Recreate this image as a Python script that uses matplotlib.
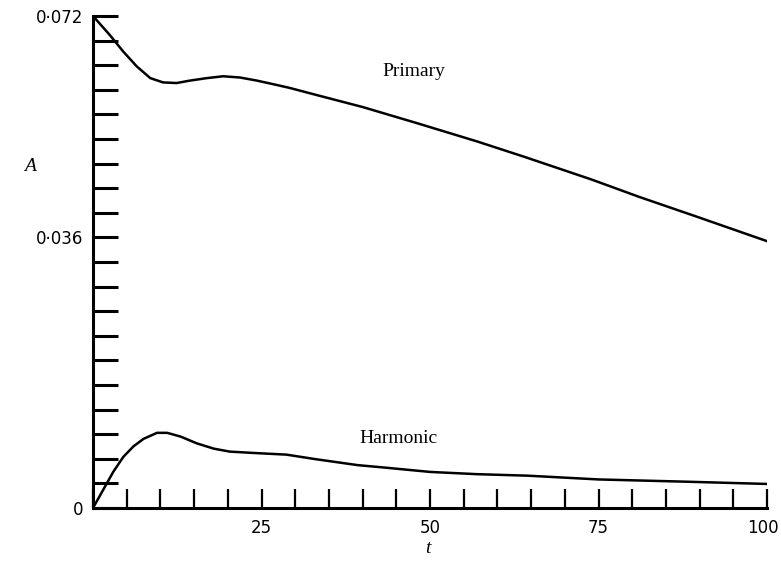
import numpy as np
import matplotlib
matplotlib.use("Agg")
import matplotlib.pyplot as plt
from matplotlib.transforms import ScaledTranslation

# Amplitude histories against time t
t_primary = [0, 2.5, 4.5, 6.5, 8.5, 10.4, 12.4, 14.4, 16.9, 19.3, 21.8, 24.3, 27.2, 29.2,
             33, 40, 48, 57, 64, 74, 81, 89.5, 100]
a_primary = [0.0720, 0.0689, 0.0662, 0.0638, 0.0619, 0.0612, 0.0611, 0.0615, 0.0619, 0.0622,
             0.0620, 0.0615, 0.0608, 0.0603, 0.0592, 0.0572, 0.0546, 0.0516, 0.0491, 0.0454,
             0.0426, 0.0394, 0.0355]

t_harmonic = [0, 1.5, 3, 4.5, 6, 7.5, 9.5, 11, 13, 15.4, 17.9, 20.3, 24.3, 28.7, 33, 39.3,
              43, 50, 57, 64.5, 75, 88, 100]
a_harmonic = [0.0, 0.0024, 0.0048, 0.0068, 0.0082, 0.0092, 0.0100, 0.0100, 0.0095, 0.0086,
              0.0079, 0.0075, 0.0073, 0.0071, 0.0065, 0.0057, 0.0054, 0.0048, 0.0045, 0.0043,
              0.0038, 0.0035, 0.0032]

y_tick_labels = {0.0: "0", 0.036: "0·036", 0.072: "0·072"}
x_tick_labels = [25, 50, 75, 100]

# Vertical axis: the lower half (0 to 0.036) spans 11 divisions, the upper half 9
LOW_DIV, HIGH_DIV, MID = 11.0, 9.0, 0.036


def forward(v):
    v = np.asarray(v, dtype=float)
    return np.where(v <= MID, v / MID * LOW_DIV, LOW_DIV + (v - MID) / MID * HIGH_DIV)


def inverse(u):
    u = np.asarray(u, dtype=float)
    return np.where(u <= LOW_DIV, u / LOW_DIV * MID, MID + (u - LOW_DIV) / HIGH_DIV * MID)


W, H = 781, 562
fig = plt.figure(figsize=(W / 100, H / 100), dpi=100)
ax = fig.add_axes([93 / W, (H - 508) / H, (767 - 93) / W, (508 - 16) / H])

ax.set_yscale("function", functions=(forward, inverse))
ax.plot(t_primary, a_primary, color="black", lw=1.8, solid_capstyle="round", solid_joinstyle="round")
ax.plot(t_harmonic, a_harmonic, color="black", lw=1.8, solid_capstyle="round", solid_joinstyle="round")

ax.set_xlim(0, 100)
ax.set_ylim(0, 0.072)

for side in ("top", "right"):
    ax.spines[side].set_visible(False)
for side in ("left", "bottom"):
    ax.spines[side].set_linewidth(2.2)

# y ticks: every division of both halves
y_ticks = [k * MID / LOW_DIV for k in range(12)] + [MID + k * MID / HIGH_DIV for k in range(1, 10)]
ax.set_yticks(y_ticks)
ax.set_yticklabels([y_tick_labels.get(round(v, 4), "") for v in y_ticks])
x_ticks = list(range(0, 101, 5))
ax.set_xticks(x_ticks)
ax.set_xticklabels([str(v) if v in x_tick_labels else "" for v in x_ticks])

ax.tick_params(axis="y", direction="in", length=18, width=2.2, pad=7, labelsize=12)
ax.tick_params(axis="x", direction="in", length=14, width=1.6, pad=8, labelsize=12)
for lab in ax.get_xticklabels() + ax.get_yticklabels():
    lab.set_family("DejaVu Sans")

# keep the last t label inside the figure edge
last = ax.get_xticklabels()[-1]
last.set_transform(last.get_transform() + ScaledTranslation(-4 / 100, 0, fig.dpi_scale_trans))

ax.set_ylabel("A", rotation=0, fontsize=14, fontstyle="italic", family="Liberation Serif")
ax.yaxis.set_label_coords(-0.093, 0.677)
ax.set_xlabel("t", fontsize=14, fontstyle="italic", family="Liberation Serif")
ax.xaxis.set_label_coords(0.497, -0.066)

ax.text(47.6, 0.0629, "Primary", ha="center", va="center", fontsize=14, family="Liberation Serif")
ax.text(45.3, 0.0093, "Harmonic", ha="center", va="center", fontsize=14, family="Liberation Serif")

fig.savefig("out.png", dpi=100)
